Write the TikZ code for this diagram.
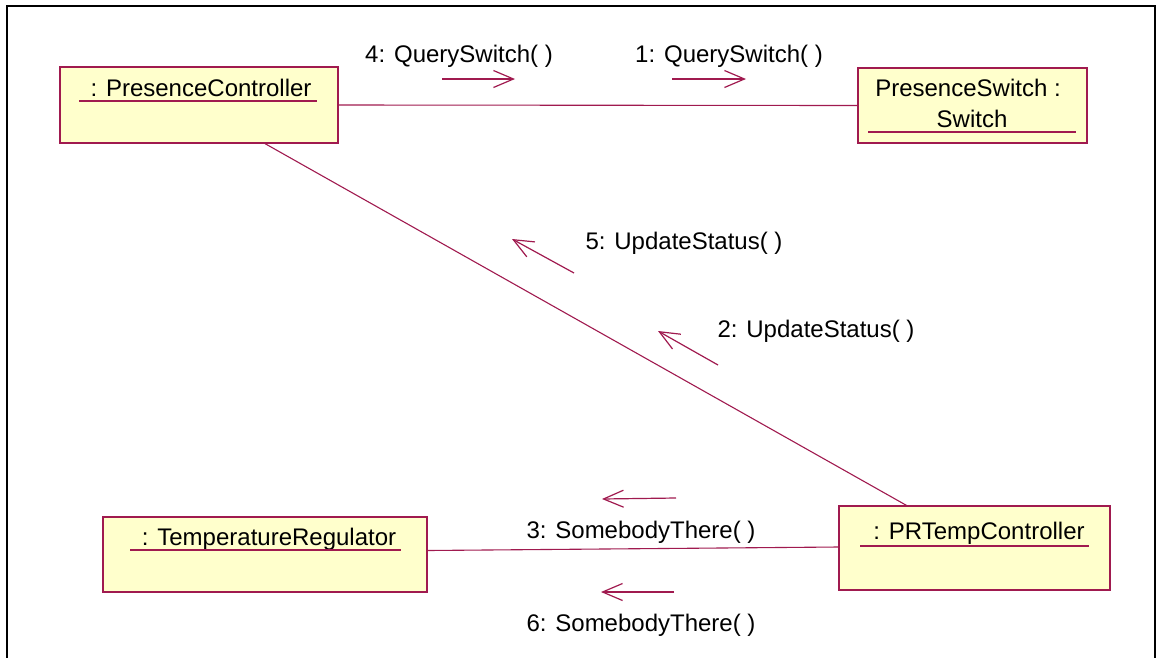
\documentclass[tikz,border=0pt]{standalone}
\usepackage{fontspec}
\setmainfont{Liberation Sans}
\usetikzlibrary{arrows.meta,calc}
\definecolor{umlline}{HTML}{A01A4F}
\definecolor{umlfill}{HTML}{FFFFCC}
\begin{document}
\begin{tikzpicture}[x=1pt,y=-1pt,
  every node/.style={font=\fontsize{24}{28}\selectfont},
  obj/.style={draw=umlline, fill=umlfill, line width=1.2pt, inner sep=0pt},
  objname/.style={anchor=base, inner sep=0pt},
  uline/.style={draw=umlline, line width=1.2pt},
  link/.style={draw=umlline, line width=1.1pt},
  msg/.style={draw=umlline, line width=1.2pt,
    -{Straight Barb[length=20pt,width=17pt]}},
  msglabel/.style={anchor=base, inner sep=0pt}]
\useasboundingbox (0,0) rectangle (1160,657);

% outer frame
\draw[line width=2pt] (7,680) -- (7,6) -- (1155,6) -- (1155,680);

% objects
\node[obj, minimum width=278pt, minimum height=76pt] (pc) at (199,105) {};
\node[obj, minimum width=229pt, minimum height=75pt] (ps) at (972.5,105.5) {};
\node[obj, minimum width=324pt, minimum height=75pt] (tr) at (265,554.5) {};
\node[obj, minimum width=271pt, minimum height=84pt] (prt) at (974.5,548) {};

\node[objname] (pcname) at (201,96) {: PresenceController};
\node[objname] (psname1) at (968,96) {PresenceSwitch :};
\node[objname] (psname2) at (972,127) {Switch};
\node[objname] (trname) at (269,545) {: TemperatureRegulator};
\node[objname] (prtname) at (979,539) {: PRTempController};

\draw[uline] (79,101) -- (317,101);
\draw[uline] (868,132) -- (1076,132);
\draw[uline] (130,550) -- (401,550);
\draw[uline] (860,546) -- (1089,546);

% links
\draw[link] (pc.east) -- (ps.west);
\coordinate (d1) at ($(pc.south)+(66,0)$);
\coordinate (d2) at ($(prt.north)+(-68,0)$);
\draw[link] (d1) -- (d2);
\coordinate (h1) at ($(tr.east)+(0,-4)$);
\coordinate (h2) at ($(prt.west)+(0,-1)$);
\draw[link] (h1) -- (h2);

% messages
\coordinate (m4a) at (442,79); \coordinate (m4b) at (515,79);
\draw[msg] (m4a) -- (m4b);
\node[msglabel] (l4) at (459,62) {4: QuerySwitch( )};

\coordinate (m1a) at (672,79); \coordinate (m1b) at (746,79);
\draw[msg] (m1a) -- (m1b);
\node[msglabel] (l1) at (729,62) {1: QuerySwitch( )};

\coordinate (m5a) at (574,273); \coordinate (m5b) at (512,239);
\draw[msg] (m5a) -- (m5b);
\node[msglabel] (l5) at (684,249) {5: UpdateStatus( )};

\coordinate (m2a) at (718,365); \coordinate (m2b) at (658,331);
\draw[msg] (m2a) -- (m2b);
\node[msglabel] (l2) at (816,337) {2: UpdateStatus( )};

\coordinate (m3a) at (676,498); \coordinate (m3b) at (602,499);
\draw[msg] (m3a) -- (m3b);
\node[msglabel] (l3) at (641,538) {3: SomebodyThere( )};

\coordinate (m6a) at (674,592); \coordinate (m6b) at (601,592);
\draw[msg] (m6a) -- (m6b);
\node[msglabel] (l6) at (641,631) {6: SomebodyThere( )};
\end{tikzpicture}
\end{document}
